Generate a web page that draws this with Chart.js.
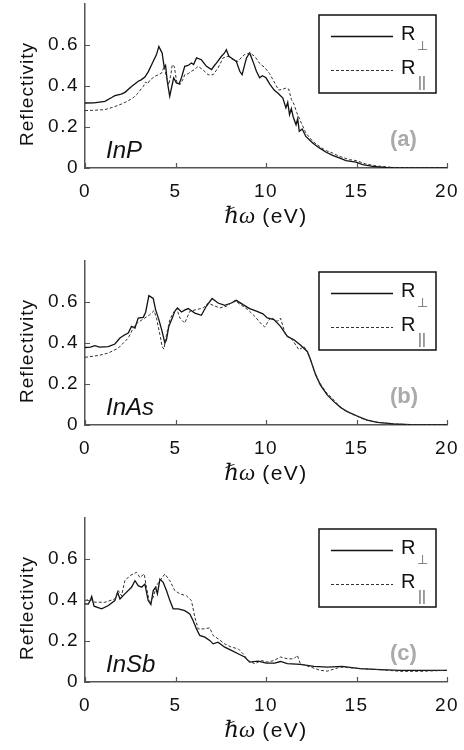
<!DOCTYPE html>
<html>
<head>
<meta charset="utf-8">
<script src="https://cdn.jsdelivr.net/npm/chart.js@4.4.1/dist/chart.umd.min.js"></script>
<style>
html, body { margin: 0; padding: 0; background: #fff; overflow: hidden; }
.panel { position: absolute; left: 0; width: 464px; height: 236px; }
</style>
</head>
<body>
<div class="panel" style="top:0px"><canvas id="chartA" width="464" height="236"></canvas></div>
<div class="panel" style="top:257px"><canvas id="chartB" width="464" height="236"></canvas></div>
<div class="panel" style="top:514px"><canvas id="chartC" width="464" height="236"></canvas></div>
<script>
// **********************************************
// Data: [photon energy (eV), reflectivity]
const xTicks = [0, 5, 10, 15, 20];
const yTicks = [0, 0.2, 0.4, 0.6];
const seriesNames = ['R', 'R'];
const seriesSubs = ['\u22A5', '||'];

// InP
const inpPerp = [[0,0.317],[0.5,0.318],[1.1,0.325],[1.5,0.345],[1.65,0.353],[2.0,0.36],[2.21,0.369],[2.57,0.398],
  [2.75,0.41],[2.94,0.423],[3.1,0.43],[3.31,0.444],[3.5,0.47],[3.68,0.504],[3.95,0.553],[4.08,0.593],[4.18,0.575],
  [4.26,0.561],[4.38,0.49],[4.45,0.5],[4.55,0.42],[4.68,0.35],[4.8,0.4],[4.9,0.44],[5.05,0.415],[5.2,0.41],
  [5.33,0.44],[5.51,0.496],[5.7,0.5],[5.88,0.512],[6.0,0.505],[6.16,0.537],[6.43,0.528],[6.71,0.496],[6.99,0.48],
  [7.15,0.5],[7.26,0.512],[7.54,0.545],[7.7,0.56],[7.81,0.577],[7.95,0.545],[8.09,0.537],[8.36,0.52],[8.55,0.472],
  [8.68,0.455],[8.92,0.537],[9.1,0.561],[9.28,0.52],[9.47,0.472],[9.65,0.44],[9.8,0.45],[10.0,0.44],[10.2,0.41],
  [10.45,0.38],[10.65,0.366],[10.93,0.341],[11.1,0.293],[11.2,0.32],[11.3,0.26],[11.4,0.29],[11.5,0.25],
  [11.66,0.211],[11.75,0.24],[11.84,0.179],[12.0,0.19],[12.2,0.154],[12.58,0.122],[12.95,0.098],[13.3,0.078],
  [13.68,0.062],[14.05,0.049],[14.42,0.036],[14.97,0.029],[15.34,0.016],[15.9,0.008],[16.6,0.003],[18,0.001],[20,0.001]];
const inpPar = [[0,0.28],[0.6,0.282],[1.1,0.285],[1.5,0.295],[1.84,0.306],[2.1,0.315],[2.39,0.328],[2.7,0.345],
  [2.94,0.366],[3.1,0.385],[3.22,0.398],[3.35,0.42],[3.45,0.41],[3.6,0.43],[3.86,0.447],[4.05,0.455],[4.23,0.463],
  [4.38,0.496],[4.5,0.44],[4.63,0.406],[4.75,0.46],[4.82,0.504],[4.93,0.496],[5.06,0.423],[5.24,0.406],[5.4,0.43],
  [5.51,0.455],[5.7,0.46],[5.88,0.472],[6.05,0.48],[6.25,0.496],[6.5,0.48],[6.8,0.455],[7.08,0.455],[7.35,0.488],
  [7.63,0.537],[7.9,0.545],[8.18,0.528],[8.46,0.52],[8.65,0.54],[8.82,0.553],[9.1,0.561],[9.38,0.545],[9.65,0.51],
  [9.93,0.49],[10.2,0.46],[10.45,0.42],[10.7,0.38],[10.95,0.385],[11.1,0.39],[11.25,0.385],[11.4,0.335],[11.55,0.31],
  [11.7,0.27],[11.95,0.22],[12.2,0.171],[12.58,0.13],[12.95,0.106],[13.3,0.085],[13.68,0.073],[14.05,0.057],
  [14.6,0.041],[15.0,0.036],[15.5,0.02],[16.1,0.01],[17.0,0.003],[18,0.001],[20,0.001]];

// InAs
const inasPerp = [[0,0.378],[0.3,0.38],[0.55,0.387],[0.8,0.38],[1.29,0.382],[1.65,0.395],[1.93,0.424],[2.2,0.44],
  [2.39,0.449],[2.57,0.481],[2.76,0.473],[2.94,0.522],[3.22,0.525],[3.35,0.55],[3.53,0.631],[3.77,0.617],[3.9,0.563],
  [4.08,0.514],[4.26,0.457],[4.41,0.4],[4.5,0.416],[4.63,0.481],[4.82,0.522],[4.96,0.555],[5.11,0.571],[5.33,0.551],
  [5.5,0.56],[5.7,0.568],[6.07,0.546],[6.43,0.535],[6.7,0.579],[7.02,0.617],[7.35,0.595],[7.72,0.584],[8.09,0.595],
  [8.36,0.608],[8.73,0.587],[9.1,0.568],[9.47,0.555],[9.83,0.542],[10.07,0.522],[10.44,0.514],[10.8,0.481],
  [11.18,0.432],[11.54,0.416],[11.9,0.39],[12.28,0.359],[12.46,0.318],[12.74,0.245],[13.0,0.196],[13.38,0.147],
  [13.75,0.114],[14.12,0.085],[14.49,0.065],[15.04,0.044],[15.59,0.024],[16.14,0.013],[17.06,0.005],[17.98,0.002],[20,0.001]];
const inasPar = [[0,0.33],[0.74,0.339],[1.29,0.351],[1.84,0.375],[2.39,0.424],[2.76,0.489],[3.03,0.506],[3.31,0.522],
  [3.58,0.538],[3.82,0.558],[3.95,0.52],[4.14,0.44],[4.26,0.383],[4.36,0.37],[4.5,0.44],[4.69,0.514],[4.87,0.546],
  [5.06,0.57],[5.24,0.522],[5.51,0.497],[5.79,0.555],[6.16,0.563],[6.53,0.571],[6.8,0.595],[7.08,0.584],[7.44,0.571],
  [7.81,0.579],[8.27,0.607],[8.64,0.584],[9.0,0.563],[9.38,0.53],[9.74,0.493],[9.93,0.478],[10.26,0.525],[10.63,0.506],
  [10.8,0.522],[11.08,0.44],[11.45,0.416],[11.82,0.367],[12.1,0.383],[12.37,0.343],[12.65,0.269],[12.93,0.212],
  [13.29,0.163],[13.66,0.13],[14.03,0.095],[14.4,0.069],[14.85,0.049],[15.4,0.028],[15.96,0.016],[17.0,0.005],[18,0.002],[20,0.001]];

// InSb
const insbPerp = [[0,0.381],[0.18,0.38],[0.3,0.4],[0.37,0.417],[0.5,0.37],[0.92,0.357],[1.29,0.373],[1.65,0.397],
  [1.8,0.438],[1.93,0.405],[2.2,0.43],[2.57,0.462],[2.76,0.494],[2.94,0.47],[3.13,0.462],[3.31,0.478],[3.49,0.397],
  [3.64,0.378],[3.77,0.446],[3.9,0.462],[4.0,0.43],[4.14,0.502],[4.32,0.486],[4.5,0.446],[4.69,0.397],[4.87,0.357],
  [5.15,0.357],[5.51,0.348],[5.79,0.332],[5.97,0.3],[6.16,0.259],[6.34,0.227],[6.62,0.219],[6.89,0.203],[7.08,0.186],
  [7.35,0.194],[7.72,0.17],[8.09,0.154],[8.46,0.138],[8.82,0.122],[9.1,0.097],[9.56,0.102],[10.02,0.092],[10.48,0.092],
  [10.8,0.1],[11.18,0.09],[11.9,0.086],[12.65,0.076],[13.38,0.073],[14.2,0.076],[15.2,0.065],[16.3,0.06],[17.4,0.057],
  [18.5,0.057],[20,0.057]];
const insbPar = [[0,0.397],[0.28,0.405],[0.55,0.389],[1.1,0.389],[1.65,0.405],[1.84,0.446],[2.02,0.42],[2.2,0.494],
  [2.48,0.519],[2.85,0.535],[3.03,0.51],[3.27,0.527],[3.4,0.46],[3.58,0.381],[3.77,0.413],[3.95,0.47],[4.14,0.494],
  [4.41,0.527],[4.69,0.494],[4.96,0.446],[5.24,0.43],[5.6,0.421],[5.88,0.397],[6.07,0.316],[6.25,0.259],[6.53,0.259],
  [6.89,0.264],[7.08,0.227],[7.35,0.211],[7.72,0.186],[8.09,0.17],[8.46,0.162],[8.73,0.138],[9.0,0.105],[9.38,0.089],
  [9.74,0.105],[10.1,0.097],[10.44,0.105],[10.8,0.122],[11.18,0.113],[11.54,0.113],[11.73,0.13],[11.9,0.089],
  [12.46,0.073],[13.0,0.057],[13.38,0.053],[14.12,0.073],[15.22,0.065],[16.32,0.06],[17.43,0.052],[18.53,0.052],[20,0.057]];

// **********************************************
// Styling
const FONT = "'Liberation Sans', Arial, Helvetica, sans-serif";
const AXIS_COLOR = '#555';
const INK = '#111';
Chart.defaults.font.family = FONT;

// draws the MATLAB-ish bits: inward ticks, boxed legend, axis titles, panel labels
const decor = {
  id: 'decor',
  beforeDraw(chart) {
    chart.ctx.letterSpacing = '1.5px';
  },
  afterDraw(chart, args, opts) {
    const ctx = chart.ctx;
    const ca = chart.chartArea;
    const x = chart.scales.x, y = chart.scales.y;
    ctx.save();

    // ticks pointing into the plot
    ctx.strokeStyle = AXIS_COLOR;
    ctx.lineWidth = 1.2;
    ctx.beginPath();
    xTicks.forEach(v => {
      const px = Math.round(x.getPixelForValue(v)) + 0.5;
      ctx.moveTo(px, ca.bottom);
      ctx.lineTo(px, ca.bottom - 5);
    });
    yTicks.forEach(v => {
      const py = Math.round(y.getPixelForValue(v)) + 0.5;
      ctx.moveTo(ca.left, py);
      ctx.lineTo(ca.left + 5, py);
    });
    ctx.stroke();

    // legend box
    const bx = 319, bw = 117, by = ca.top + 11, bh = 78;
    ctx.fillStyle = '#fff';
    ctx.fillRect(bx, by, bw, bh);
    ctx.strokeStyle = '#111';
    ctx.lineWidth = 1.5;
    ctx.strokeRect(bx, by, bw, bh);
    const rows = [ca.top + 32.5, ca.top + 66.5];
    chart.data.datasets.slice().reverse().forEach((ds, i) => {
      ctx.strokeStyle = ds.borderColor;
      ctx.lineWidth = ds.borderWidth;
      ctx.setLineDash(ds.borderDash || []);
      ctx.beginPath();
      ctx.moveTo(331, rows[i]);
      ctx.lineTo(393, rows[i]);
      ctx.stroke();
      ctx.setLineDash([]);
      ctx.fillStyle = INK;
      ctx.textAlign = 'left';
      ctx.textBaseline = 'alphabetic';
      ctx.letterSpacing = '0px';
      ctx.font = '20px ' + FONT;
      ctx.fillText(seriesNames[i], 401, rows[i] + 3.5);
      ctx.fillStyle = '#666';
      if (i === 0) {
        ctx.font = "13px 'DejaVu Sans', sans-serif";
        ctx.fillText(seriesSubs[i], 417, rows[i] + 13);
      } else {
        ctx.font = '15px ' + FONT;
        ctx.fillText(seriesSubs[i], 418, rows[i] + 16);
      }
    });

    // panel labels
    ctx.fillStyle = INK;
    ctx.font = 'italic 24px ' + FONT;
    ctx.fillText(opts.name, ca.left + 21, ca.bottom - 10);
    ctx.fillStyle = '#aaa';
    ctx.font = 'bold 22px ' + FONT;
    ctx.fillText(opts.tag, ca.left + 305, ca.bottom - 22);

    // y title
    ctx.fillStyle = INK;
    ctx.letterSpacing = '1px';
    ctx.font = '19px ' + FONT;
    ctx.save();
    ctx.translate(33, ca.top + 90);
    ctx.rotate(-Math.PI / 2);
    ctx.textAlign = 'center';
    ctx.fillText('Reflectivity', 0, 0);
    ctx.restore();

    // x title: italic hbar-omega then (eV)
    const part1 = '\u210F\u03C9', part2 = '(eV)';
    ctx.letterSpacing = '0px';
    ctx.font = "italic 23px 'Liberation Serif', 'DejaVu Serif', serif";
    const w1 = ctx.measureText(part1).width;
    ctx.letterSpacing = '1.5px';
    ctx.font = '21px ' + FONT;
    const w2 = ctx.measureText(part2).width;
    const gap = 7;
    const cx = (ca.left + ca.right) / 2;
    let sx = cx - (w1 + gap + w2) / 2;
    const base = ca.bottom + 55;
    ctx.textAlign = 'left';
    ctx.letterSpacing = '0px';
    ctx.font = "italic 23px 'Liberation Serif', 'DejaVu Serif', serif";
    ctx.fillText(part1, sx, base);
    ctx.letterSpacing = '1.5px';
    ctx.font = '21px ' + FONT;
    ctx.fillText(part2, sx + w1 + gap, base);

    ctx.restore();
  }
};

function makeChart(id, perp, par, name, tag) {
  const ctx = document.getElementById(id).getContext('2d');
  return new Chart(ctx, {
    type: 'line',
    data: {
      datasets: [
        {
          data: par.map(p => ({x: p[0], y: p[1]})),
          borderColor: '#333',
          borderWidth: 1,
          borderDash: [3, 2],
          pointRadius: 0,
          tension: 0,
          fill: false
        },
        {
          data: perp.map(p => ({x: p[0], y: p[1]})),
          borderColor: '#111',
          borderWidth: 1.3,
          pointRadius: 0,
          tension: 0,
          fill: false
        }
      ]
    },
    options: {
      responsive: false,
      animation: false,
      layout: { padding: { top: 4, right: 17, left: 0, bottom: 0 } },
      plugins: {
        legend: { display: false },
        tooltip: { enabled: false },
        decor: { name: name, tag: tag }
      },
      scales: {
        x: {
          type: 'linear',
          min: 0,
          max: 20,
          afterBuildTicks: s => { s.ticks = xTicks.map(v => ({value: v})); },
          afterFit: s => { s.height = 68; s.paddingLeft = 0; s.paddingRight = 0; },
          ticks: { color: INK, font: { size: 19 }, padding: 12, maxRotation: 0, autoSkip: false },
          grid: { display: false, drawTicks: false },
          border: { color: AXIS_COLOR, width: 1.5 }
        },
        y: {
          type: 'linear',
          min: 0,
          max: 0.8,
          afterBuildTicks: s => { s.ticks = yTicks.map(v => ({value: v})); },
          afterFit: s => { s.width = 85; s.paddingTop = 0; s.paddingBottom = 0; },
          ticks: {
            color: INK,
            font: { size: 19 },
            padding: 6,
            callback: v => (v === 0 ? '0' : v.toFixed(1))
          },
          grid: { display: false, drawTicks: false },
          border: { color: AXIS_COLOR, width: 1.5 }
        }
      }
    },
    plugins: [decor]
  });
}

makeChart('chartA', inpPerp, inpPar, 'InP', '(a)');
makeChart('chartB', inasPerp, inasPar, 'InAs', '(b)');
makeChart('chartC', insbPerp, insbPar, 'InSb', '(c)');
</script>
</body>
</html>
